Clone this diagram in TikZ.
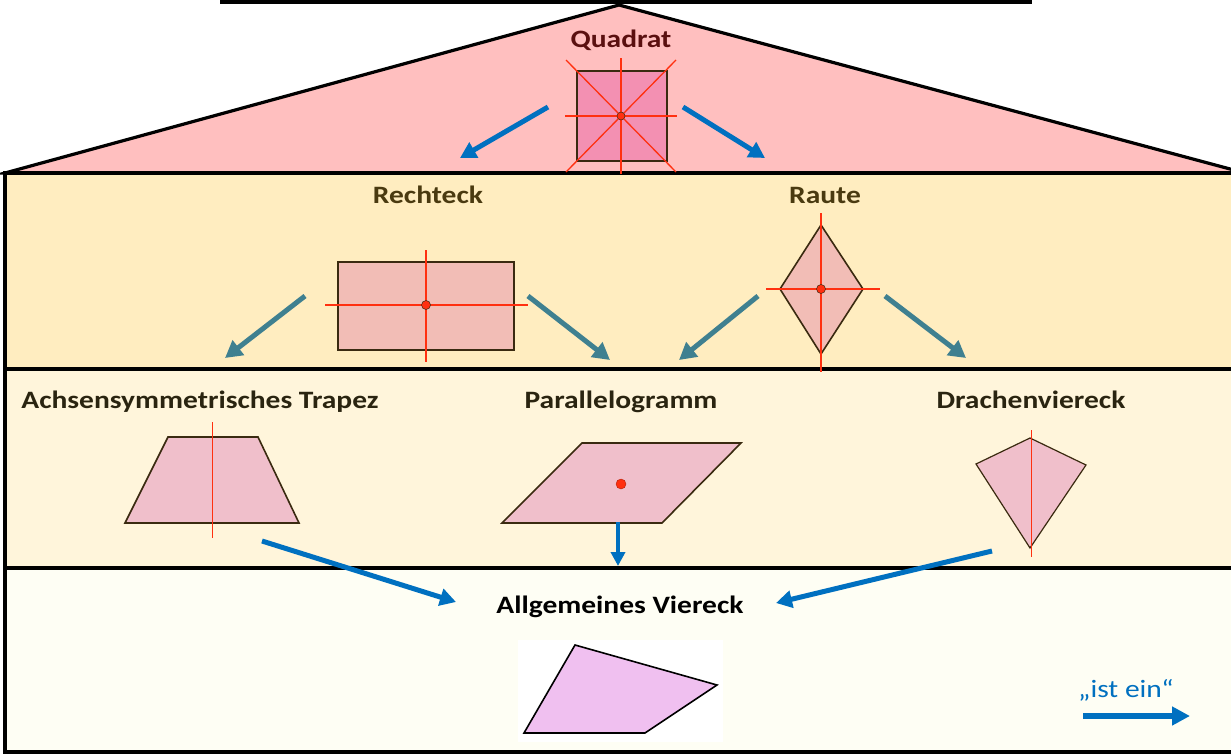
\documentclass[tikz,border=0pt]{standalone}
\usepackage{fontspec}
\setmainfont{Carlito}[FakeStretch=1.18]
\usetikzlibrary{arrows.meta}
\definecolor{roofpink}{HTML}{FFBFBF}
\definecolor{bandA}{HTML}{FFEDC0}
\definecolor{bandB}{HTML}{FFF5DB}
\definecolor{bandC}{HTML}{FEFEF4}
\definecolor{sqfill}{HTML}{F390B2}
\definecolor{rectfill}{HTML}{F2BDB6}
\definecolor{shapefill}{HTML}{F0BFCB}
\definecolor{quadfill}{HTML}{F0C0F0}
\definecolor{bluearr}{HTML}{0070C0}
\definecolor{tealarr}{HTML}{3F8090}
\definecolor{axisred}{HTML}{FF3010}
\definecolor{maroon}{HTML}{5A1010}
\definecolor{brownlab}{HTML}{4A3A10}
\definecolor{darklab}{HTML}{2A2410}
\definecolor{shapeline}{HTML}{3A2A10}
\tikzset{
  border/.style={line width=3.2pt, draw=black, line join=miter},
  shp/.style={line width=1.6pt, draw=shapeline, line join=miter},
  axis/.style={line width=1.3pt, draw=axisred},
  thinaxis/.style={line width=1pt, draw=axisred},
  ctr/.style={circle, fill=axisred, draw=shapeline, line width=0.5pt, inner sep=0pt, minimum size=9pt},
  lab/.style={font=\bfseries\fontsize{25}{30}\selectfont, inner sep=0pt, anchor=base},
  bluea/.style={draw=bluearr, line width=5pt, -{Triangle[length=16pt,width=17pt]}},
  teala/.style={draw=tealarr, line width=5pt, -{Triangle[length=17pt,width=18pt]}},
}
\begin{document}
\begin{tikzpicture}[x=1pt,y=-1pt]
\useasboundingbox (0,0) rectangle (1231,755);
\clip (0,0) rectangle (1231,755);
\fill[white] (0,0) rectangle (1231,755);
% frame of the cut-off title box
\draw[border] (222,-20) rectangle (1030,2);
% house
\filldraw[border, fill=roofpink] (5,173) -- (619,5) -- (1245,173) -- cycle;
\filldraw[border, fill=bandA] (5,173) rectangle (1245,369);
\filldraw[border, fill=bandB] (5,369) rectangle (1245,568);
\filldraw[border, fill=bandC] (5,568) rectangle (1245,752);

% Quadrat
\node[lab, text=maroon] (quadrat) at (621,47) {Quadrat};
\filldraw[shp, fill=sqfill] (577,71) rectangle (667,161);
\draw[axis] (566,60) -- (676,172);
\draw[axis] (676,60) -- (566,172);
\draw[axis] (621,58) -- (621,174);
\draw[axis] (565,116) -- (677,116);
\node[ctr, minimum size=8pt] (qc) at (621,116) {};
\coordinate (q1) at (548,107);
\coordinate (q1e) at (460,158);
\coordinate (q2) at (683,107);
\coordinate (q2e) at (765,158);
\draw[bluea] (q1) -- (q1e);
\draw[bluea] (q2) -- (q2e);

% Rechteck
\node[lab, text=brownlab] (rechteck) at (428,203) {Rechteck};
\filldraw[shp, fill=rectfill] (338,262) rectangle (514,350);
\draw[axis] (426,250) -- (426,362);
\draw[axis] (325,305) -- (528,305);
\node[ctr] (rc) at (426,305) {};

% Raute
\node[lab, text=brownlab] (raute) at (825,203) {Raute};
\filldraw[shp, fill=rectfill] (821,225) -- (863,289) -- (821,354) -- (780,289) -- cycle;
\draw[axis] (821,213) -- (821,372);
\draw[axis] (766,289) -- (880,289);
\node[ctr] (rac) at (821,289) {};

% teal arrows
\coordinate (t1) at (305,296); \coordinate (t1e) at (225,358);
\coordinate (t2) at (528,296); \coordinate (t2e) at (610,360);
\coordinate (t3) at (758,296); \coordinate (t3e) at (679,360);
\coordinate (t4) at (885,296); \coordinate (t4e) at (966,358);
\draw[teala] (t1) -- (t1e);
\draw[teala] (t2) -- (t2e);
\draw[teala] (t3) -- (t3e);
\draw[teala] (t4) -- (t4e);

% second row
\node[lab, text=darklab] (trapez) at (200,408) {Achsensymmetrisches Trapez};
\node[lab, text=darklab] (para) at (621,408) {Parallelogramm};
\node[lab, text=darklab] (drachen) at (1031,408) {Drachenviereck};

\filldraw[shp, fill=shapefill] (168,437) -- (258,437) -- (299,523) -- (125,523) -- cycle;
\draw[thinaxis] (212,422) -- (212,538);

\filldraw[shp, fill=shapefill] (582,443) -- (741,443) -- (662,523) -- (502,523) -- cycle;
\node[circle, fill=axisred, draw=axisred!70!black, line width=0.4pt, inner sep=0pt, minimum width=8pt, minimum height=10pt] (pc) at (621,484) {};

\filldraw[shp, line width=1.2pt, fill=shapefill] (1030,438) -- (1086,465) -- (1030,548) -- (976,464) -- cycle;
\draw[thinaxis] (1031,430) -- (1031,557);

% blue arrows to general quadrilateral
\coordinate (b1) at (262,541); \coordinate (b1e) at (456,602);
\coordinate (b2) at (618,522); \coordinate (b2e) at (618,566);
\coordinate (b3) at (992,551); \coordinate (b3e) at (776,603);
\draw[bluea] (b1) -- (b1e);
\draw[bluea, line width=4pt, -{Triangle[length=14pt,width=14pt]}] (b2) -- (b2e);
\draw[bluea] (b3) -- (b3e);

% Allgemeines Viereck
\node[lab, text=black] (allg) at (620,613) {Allgemeines Viereck};
\fill[white] (518,640) rectangle (723,742);
\filldraw[shp, draw=black, line width=1.6pt, fill=quadfill] (575,645) -- (717,685) -- (645,733) -- (524,733) -- cycle;

% legend
\node[text=bluearr, font=\fontsize{25}{30}\selectfont, inner sep=0pt, anchor=base] (legend) at (1126,697) {„ist ein“};
\coordinate (l1) at (1083,716); \coordinate (l1e) at (1190,716);
\draw[bluea, line width=6pt, -{Triangle[length=18pt,width=18pt]}] (l1) -- (l1e);
\end{tikzpicture}
\end{document}
